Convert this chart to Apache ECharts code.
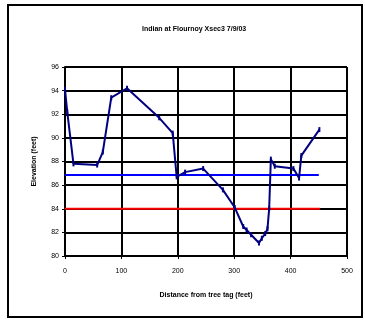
<!DOCTYPE html>
<html lang="en">
<head>
    <meta charset="UTF-8">
    <title>Indian at Flournoy Xsec3</title>
    <script src="https://cdn.jsdelivr.net/npm/echarts@6/dist/echarts.min.js"></script>
    <style>
        html, body { margin: 0; padding: 0; background: #fff; }
        #charts { width: 365px; height: 323px; }
    </style>
</head>
<body>
<div id="charts"></div>
<script>
    // cross-section survey points
    var dist = [0, 4, 15, 57, 67, 82, 110, 167, 191, 198, 213, 245, 280, 301, 316, 322, 330, 344, 349, 355, 359, 362, 365, 372, 405, 415, 419, 451];
    var elev = [94.1, 92.2, 87.8, 87.7, 88.8, 93.4, 94.2, 91.7, 90.4, 86.7, 87.1, 87.4, 85.6, 84.1, 82.5, 82.2, 81.8, 81.1, 81.5, 81.9, 82.3, 84.0, 88.2, 87.6, 87.4, 86.6, 88.5, 90.7];

    // horizontal reference levels
    var blueLevel = [[0, 86.85], [450, 86.85]];
    var redLevel = [[0, 84], [452, 84]];

    var xTicks = [0, 100, 200, 300, 400, 500];
    var yTicks = [80, 82, 84, 86, 88, 90, 92, 94, 96];

    var myChart = echarts.init(document.getElementById('charts'));

    var pts = [];
    for (var i = 0; i < dist.length; i++) {
        pts.push([dist[i], elev[i]]);
    }

    var fontFam = '"Liberation Sans", Arial, sans-serif';

    var option = {
        animation: false,
        title: {
            text: 'Indian at Flournoy Xsec3 7/9/03',
            left: 137,
            top: 21,
            textStyle: { fontSize: 7, fontWeight: 'bold', color: '#000', fontFamily: fontFam }
        },
        graphic: [{
            type: 'rect',
            shape: { x: 8, y: 5, width: 354, height: 312 },
            style: { fill: 'none', stroke: '#000', lineWidth: 2 }
        }],
        grid: { left: 65, right: 18, top: 67, bottom: 67 },
        xAxis: {
            type: 'value',
            min: xTicks[0],
            max: xTicks[xTicks.length - 1],
            interval: 100,
            name: 'Distance from tree tag (feet)',
            nameLocation: 'middle',
            nameGap: 36,
            nameTextStyle: { fontSize: 7, fontWeight: 'bold', color: '#000', fontFamily: fontFam },
            axisLine: { lineStyle: { color: '#000', width: 2 } },
            axisTick: { show: true, length: 3, lineStyle: { color: '#000' } },
            axisLabel: { fontSize: 7, color: '#000', margin: 12, fontFamily: fontFam },
            splitLine: { show: true, lineStyle: { color: '#000', width: 2 } }
        },
        yAxis: {
            type: 'value',
            min: yTicks[0],
            max: yTicks[yTicks.length - 1],
            interval: 2,
            name: 'Elevation (feet)',
            nameLocation: 'middle',
            nameGap: 27,
            nameTextStyle: { fontSize: 7, fontWeight: 'bold', color: '#000', fontFamily: fontFam },
            axisLine: { show: true, lineStyle: { color: '#000', width: 2 } },
            axisTick: { show: true, length: 3, lineStyle: { color: '#000' } },
            axisLabel: { fontSize: 7, color: '#000', margin: 6, fontFamily: fontFam },
            splitLine: { show: true, lineStyle: { color: '#000', width: 2 } }
        },
        series: [
            {
                type: 'line',
                data: blueLevel,
                symbol: 'none',
                lineStyle: { color: '#0000FF', width: 2 },
                z: 3
            },
            {
                type: 'line',
                data: redLevel,
                symbol: 'none',
                lineStyle: { color: '#FF0000', width: 2 },
                z: 3
            },
            {
                type: 'line',
                data: pts,
                symbol: 'rect',
                symbolSize: [2, 5],
                itemStyle: { color: '#000080' },
                lineStyle: { color: '#000080', width: 2 },
                z: 4
            }
        ]
    };

    myChart.setOption(option);
</script>
</body>
</html>
